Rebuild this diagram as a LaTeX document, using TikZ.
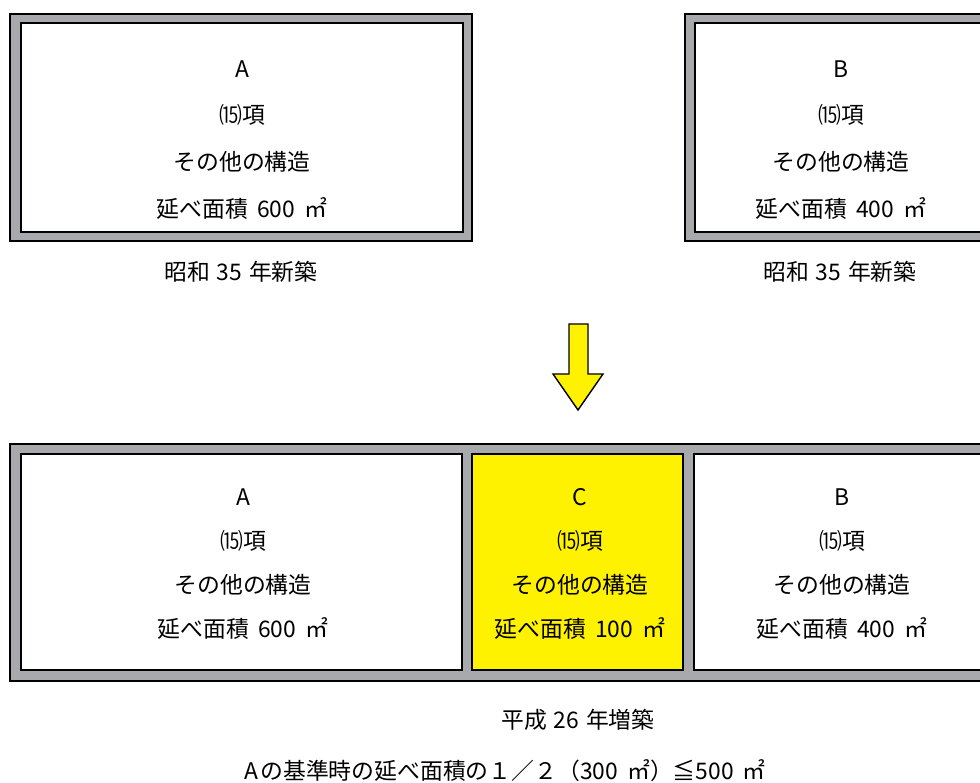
\documentclass[tikz,border=0pt]{standalone}
\usepackage{fontspec}
\setmainfont{Noto Sans CJK JP}
\definecolor{wallgray}{HTML}{A7A9AC}
\definecolor{addyellow}{HTML}{FFF200}
\tikzset{
  wall/.style={fill=wallgray, draw=black, line width=1.1pt},
  room/.style={fill=white, draw=black, line width=1.1pt},
  roomtext/.style={align=center, inner sep=0pt, font=\fontsize{13}{26.7}\selectfont},
  roomtextlow/.style={align=center, inner sep=0pt, font=\fontsize{13}{25}\selectfont},
  caption/.style={inner sep=0pt, font=\fontsize{13}{15}\selectfont}
}
\begin{document}
\begin{tikzpicture}[x=0.02cm, y=-0.02cm]
        \clip (0, 0) rectangle (980, 783);

        % before: two separate buildings
        \draw [wall] (10, 14) rectangle (472, 241);
        \draw [room] (21, 23) rectangle (463, 232);
        \draw [wall] (685, 14) rectangle (1160, 241);
        \draw [room] (695, 23) rectangle (1150, 232);

        \node [roomtext] (oldA) at (242, 140)
          {A\\⒂項\\その他の構造\\延べ面積\hspace{0.4em}600\hspace{0.4em}㎡};
        \node [roomtext] (oldB) at (841, 140)
          {B\\⒂項\\その他の構造\\延べ面積\hspace{0.4em}400\hspace{0.4em}㎡};
        \node [caption] (yearA) at (241, 272) {昭和\hspace{0.3em}35\hspace{0.3em}年新築};
        \node [caption] (yearB) at (840, 272) {昭和\hspace{0.3em}35\hspace{0.3em}年新築};

        % arrow
        \draw [fill=addyellow, draw=black, line width=0.8pt, line join=miter]
          (569, 324) -- (588, 324) -- (588, 374) -- (603, 374) -- (578, 410)
          -- (553, 374) -- (569, 374) -- cycle;

        % after: joined by the extension C
        \draw [wall] (10, 444) rectangle (1160, 681);
        \draw [room] (21, 454) rectangle (462, 670);
        \draw [room, fill=addyellow] (472, 454) rectangle (683, 670);
        \draw [room] (694, 454) rectangle (1150, 670);

        \node [roomtextlow] (newA) at (243, 564)
          {A\\⒂項\\その他の構造\\延べ面積\hspace{0.4em}600\hspace{0.4em}㎡};
        \node [roomtextlow] (newC) at (580, 564)
          {C\\⒂項\\その他の構造\\延べ面積\hspace{0.4em}100\hspace{0.4em}㎡};
        \node [roomtextlow] (newB) at (842, 564)
          {B\\⒂項\\その他の構造\\延べ面積\hspace{0.4em}400\hspace{0.4em}㎡};

        \node [caption] (yearC) at (578, 720) {平成\hspace{0.3em}26\hspace{0.3em}年増築};
        \node [caption] (rule) at (505, 771)
          {A\hspace{0.1em}の基準時の延べ面積の１／２（300\hspace{0.4em}㎡）≦500\hspace{0.4em}㎡};
      \end{tikzpicture}
\end{document}
